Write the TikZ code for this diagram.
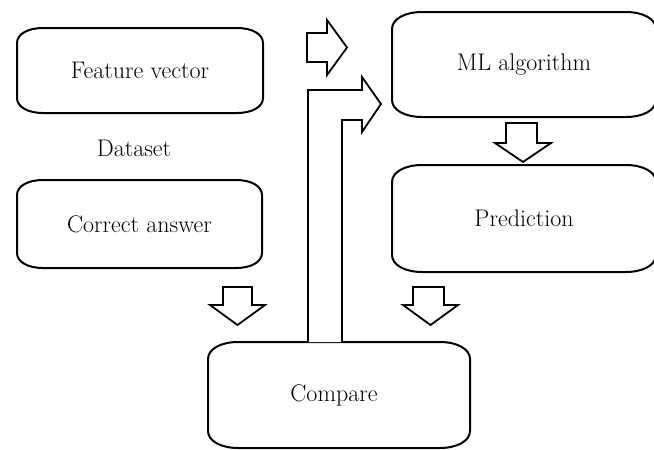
\documentclass[tikz,border=0pt]{standalone}
\usepackage{fontspec}
\usepackage{tikz}
\tikzset{
  boxline/.style={line width=2pt, line join=round},
  boxnode/.style={draw=none, inner sep=0pt, outer sep=0pt, font=\fontsize{24}{28}\selectfont},
  lbl/.style={inner sep=0pt, font=\fontsize{24}{28}\selectfont},
  barrow/.style={draw, line width=1.8pt, line join=miter, fill=white}
}
% name, rx, ry, control offsets
\newcommand\ovbox[5]{%
  \draw[boxline] ([yshift=-#3]#1.north west) .. controls ([yshift=-#5]#1.north west) and ([xshift=#4]#1.north west) .. ([xshift=#2]#1.north west)
    -- ([xshift=-#2]#1.north east) .. controls ([xshift=-#4]#1.north east) and ([yshift=-#5]#1.north east) .. ([yshift=-#3]#1.north east)
    -- ([yshift=#3]#1.south east) .. controls ([yshift=#5]#1.south east) and ([xshift=-#4]#1.south east) .. ([xshift=-#2]#1.south east)
    -- ([xshift=#2]#1.south west) .. controls ([xshift=#4]#1.south west) and ([yshift=#5]#1.south west) .. ([yshift=#3]#1.south west)
    -- cycle;}
\begin{document}
\begin{tikzpicture}[x=1pt,y=-1pt]
\useasboundingbox[fill=white] (0,0) rectangle (654,450);
% boxes
\node[boxnode, minimum width=246pt, minimum height=85pt] (fv) at (140,70.5) {Feature vector};
\node[boxnode, minimum width=245pt, minimum height=88pt] (ca) at (139.5,224) {Correct answer};
\node[boxnode, minimum width=264pt, minimum height=105pt] (ml) at (524,64.5) {ML algorithm};
\node[boxnode, minimum width=264pt, minimum height=107pt] (pr) at (524,218.5) {Prediction};
\node[boxnode, minimum width=262pt, minimum height=106pt] (cmp) at (339,395) {\hspace*{-10pt}Compare};
\node[lbl] (ds) at (134,148) {Dataset};
\ovbox{fv}{26pt}{15pt}{11pt}{6pt}
\ovbox{ca}{26pt}{15pt}{11pt}{6pt}
\ovbox{ml}{30pt}{17pt}{13pt}{7pt}
\ovbox{pr}{30pt}{17pt}{13pt}{7pt}
\ovbox{cmp}{30pt}{17pt}{13pt}{7pt}
% block arrows
\draw[barrow] (307,33) -- (327,33) -- (327,20) -- (347,47.5) -- (327,75) -- (327,62) -- (307,62) -- cycle;
\draw[barrow] (308,342) -- (308,90) -- (362,90) -- (362,77) -- (381,104) -- (362,132) -- (362,120) -- (342,120) -- (342,342);
\draw[barrow] (506,123) -- (537,123) -- (537,143) -- (551,143) -- (523,162) -- (495,143) -- (506,143) -- cycle;
\draw[barrow] (223,287) -- (252,287) -- (252,305) -- (265,305) -- (237.5,325) -- (210,305) -- (223,305) -- cycle;
\draw[barrow] (413,287) -- (444,287) -- (444,305) -- (458,305) -- (430.5,325) -- (403,305) -- (413,305) -- cycle;
\end{tikzpicture}
\end{document}
